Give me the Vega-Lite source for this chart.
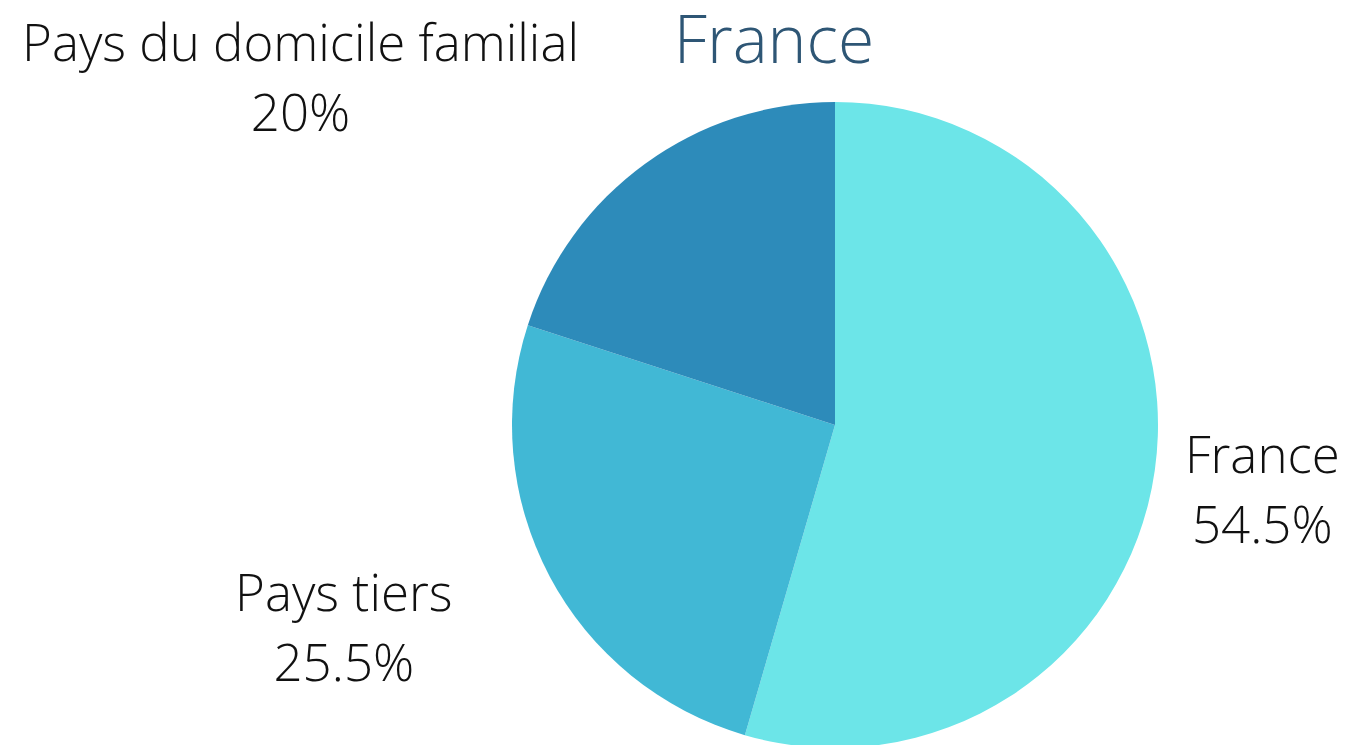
{
  "$schema": "https://vega.github.io/schema/vega-lite/v6.json",
  "autosize": {"type": "none"},
  "width": 1028,
  "height": 640,
  "padding": {"left": 321, "top": 105, "right": 0, "bottom": 0},
  "background": "white",
  "config": {"view": {"stroke": null}, "font": "Open Sans"},
  "title": {"text": "France", "fontSize": 66, "fontWeight": 300, "font": "Open Sans", "color": "#2E5675", "anchor": "middle", "dx": -61, "dy": 34, "offset": -23},
  "data": {"values": [
    {"category": "France", "value": 54.5, "label": "54.5%", "ord": 1},
    {"category": "Pays tiers", "value": 25.5, "label": "25.5%", "ord": 2},
    {"category": "Pays du domicile familial", "value": 20, "label": "20%", "ord": 3}
  ]},
  "transform": [{"calculate": "datum.category + '\\n' + datum.label", "as": "txt"}],
  "layer": [
    {
      "mark": {"type": "arc", "radius": 323, "stroke": null},
      "encoding": {
        "theta": {"field": "value", "type": "quantitative", "stack": true},
        "order": {"field": "ord", "type": "quantitative"},
        "color": {"field": "category", "type": "nominal", "legend": null,
          "scale": {"domain": ["France", "Pays tiers", "Pays du domicile familial"], "range": ["#6CE5E8", "#41B8D5", "#2D8BBA"]}}
      }
    },
    {
      "transform": [{"filter": "datum.category == 'France'"}],
      "mark": {"type": "text", "theta": 1.733, "radius": 433, "dy": -37, "fontSize": 51, "fontWeight": 300, "font": "Open Sans", "color": "#111111", "lineBreak": "\n", "lineHeight": 70, "align": "center", "baseline": "middle"},
      "encoding": {"text": {"field": "txt"}}
    },
    {
      "transform": [{"filter": "datum.category == 'Pays tiers'"}],
      "mark": {"type": "text", "theta": 4.318, "radius": 532, "dy": -33, "fontSize": 51, "fontWeight": 300, "font": "Open Sans", "color": "#111111", "lineBreak": "\n", "lineHeight": 70, "align": "center", "baseline": "middle"},
      "encoding": {"text": {"field": "txt"}}
    },
    {
      "transform": [{"filter": "datum.category == 'Pays du domicile familial'"}],
      "mark": {"type": "text", "theta": 5.290, "radius": 638, "dy": -31, "fontSize": 51, "fontWeight": 300, "font": "Open Sans", "color": "#111111", "lineBreak": "\n", "lineHeight": 70, "align": "center", "baseline": "middle"},
      "encoding": {"text": {"field": "txt"}}
    }
  ]
}
